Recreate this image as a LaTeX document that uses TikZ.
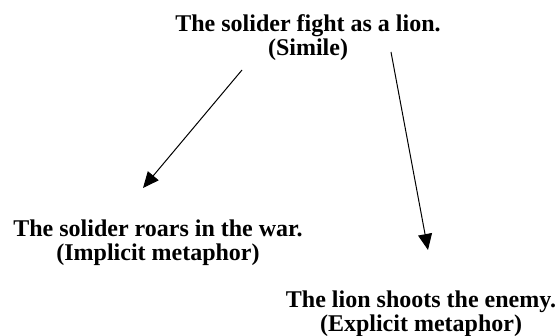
\documentclass[tikz,border=0pt]{standalone}
\usepackage{fontspec}
\setmainfont{Liberation Serif}
\usetikzlibrary{arrows.meta}
\begin{document}
\begin{tikzpicture}[x=1pt,y=1pt,
  txt/.style={font=\fontsize{24}{24}\selectfont\bfseries, align=center, inner sep=0pt},
  conn/.style={line width=1pt, -{Triangle[length=16pt,width=14pt]}}]
\useasboundingbox (0,0) rectangle (558,336);
\node[txt] (top) at (308,298) {The solider fight as a lion.\\(Simile)};
\node[txt] (left) at (158,93) {The solider roars in the war.\\(Implicit metaphor)};
\node[txt] (right) at (421,22.5) {The lion shoots the enemy.\\(Explicit metaphor)};
\coordinate (s1) at (242,266);
\coordinate (e1) at (143,148);
\coordinate (s2) at (391,284);
\coordinate (e2) at (428,86);
\draw[conn] (s1) -- (e1);
\draw[conn] (s2) -- (e2);
\end{tikzpicture}
\end{document}
